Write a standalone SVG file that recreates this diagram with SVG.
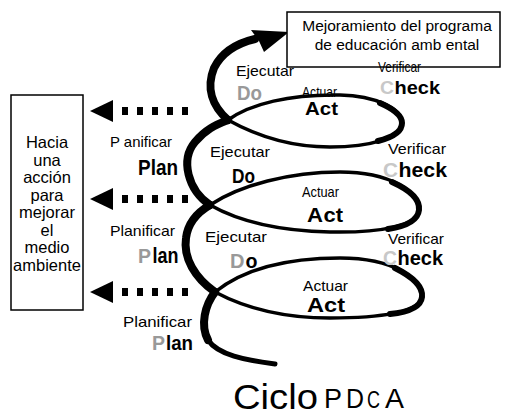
<svg xmlns="http://www.w3.org/2000/svg" xmlns:xlink="http://www.w3.org/1999/xlink" width="509" height="416" viewBox="0 0 509 416">
<style>
  .box{fill:#fff;stroke:#000;stroke-width:1.5}
  .t{font-family:"Liberation Sans",Arial,sans-serif;fill:#000}
  .bt{font-family:"Liberation Sans",Arial,sans-serif;font-size:16.5px;text-anchor:middle;fill:#000}
  .lbl{font-family:"Liberation Sans",Arial,sans-serif;font-size:15px;fill:#000}
  .hw{font-family:"Liberation Sans",Arial,sans-serif;font-weight:bold;fill:#000}
  .gray{fill:#999}
  .light{fill:#c8c8c8}
  .sp{fill:none;stroke:#000;stroke-linecap:round;stroke-linejoin:round}
</style>
<defs>
  <g id="dashArrow">
    <polygon points="90,0 113,-11 113,11" fill="#000"/>
    <line x1="122" y1="0" x2="189" y2="0" stroke="#000" stroke-width="8" stroke-dasharray="6 9"/>
  </g>
</defs>

<g id="connectors">
  <g id="dashed-arrows">
    <use xlink:href="#dashArrow" href="#dashArrow" transform="translate(0,111)"/>
    <use xlink:href="#dashArrow" href="#dashArrow" transform="translate(0,199)"/>
    <use xlink:href="#dashArrow" href="#dashArrow" transform="translate(0,292)"/>
  </g>
  <g id="spiral">
    <path class="sp" stroke-width="8" d="M215,292 C205,305 200,325 208,340"/>
    <path class="sp" stroke-width="5" d="M208,340 C218,355 245,360 275,364"/>
    <path class="sp" stroke-width="3.5" d="M215,292 C245,268 290,258 340,258 C395,258 423,280 422,297 C421,312 380,318 330,318 C285,318 245,308 215,292"/>
    <path class="sp" stroke-width="6" d="M395,268 C415,278 423,288 422,297 C421,306 410,312 390,314"/>
    <path class="sp" stroke-width="8" d="M215,292 C195,278 183,258 186,238 C188,222 198,212 210,205"/>
    <path class="sp" stroke-width="3.5" d="M210,205 C240,185 290,172 340,172 C390,172 420,192 419,210 C418,226 380,233 330,232 C280,231 240,222 210,205"/>
    <path class="sp" stroke-width="6" d="M392,182 C412,191 420,201 419,210 C418,219 408,226 388,229"/>
    <path class="sp" stroke-width="8" d="M210,205 C188,190 180,160 195,142 C205,130 215,125 228,120"/>
    <path class="sp" stroke-width="3.5" d="M228,120 C250,104 290,94 340,95 C375,96 402,108 402,123 C402,138 370,147 330,147 C290,147 255,135 228,120"/>
    <path class="sp" stroke-width="6" d="M380,103 C396,110 402,116 402,123 C402,131 394,137 378,141"/>
    <path class="sp" stroke-width="8" d="M228,120 C212,106 206,88 214,68 C222,52 238,43 255,39"/>
    <polygon points="251,30 289,32 264,52 259,41" fill="#000"/>
  </g>
</g>

<g id="node-left">
  <rect class="box" x="11" y="95" width="72" height="215"/>
  <text class="bt" x="47" y="148">Hacia</text>
  <text class="bt" x="47" y="165.5">una</text>
  <text class="bt" x="47" y="183">acción</text>
  <text class="bt" x="47" y="200.5">para</text>
  <text class="bt" x="47" y="218">mejorar</text>
  <text class="bt" x="47" y="235.5">el</text>
  <text class="bt" x="47" y="253">medio</text>
  <text class="bt" x="47" y="271">ambiente</text>
</g>

<g id="node-top">
  <rect class="box" x="287" y="12" width="213" height="55"/>
  <text class="t" x="397" y="31" font-size="15.5" text-anchor="middle">Mejoramiento del programa</text>
  <text class="t" x="397" y="50" font-size="15.5" text-anchor="middle">de educación amb ental</text>
</g>

<g id="labels-row1">
  <text class="lbl" x="236" y="76" textLength="58" lengthAdjust="spacingAndGlyphs">Ejecutar</text>
  <text class="hw gray" x="237" y="100" font-size="20" textLength="25" lengthAdjust="spacingAndGlyphs">Do</text>
  <text class="lbl" x="378" y="72" font-size="13" textLength="43" lengthAdjust="spacingAndGlyphs">Verificar</text>
  <text class="hw light" x="380" y="94" font-size="19" textLength="14" lengthAdjust="spacingAndGlyphs">C</text>
  <text class="hw" x="394.5" y="94" font-size="19" textLength="45.5" lengthAdjust="spacingAndGlyphs">heck</text>
  <text class="lbl" x="302" y="97" font-size="14" textLength="35" lengthAdjust="spacingAndGlyphs">Actuar</text>
  <text class="hw" x="305" y="115" font-size="19" textLength="33" lengthAdjust="spacingAndGlyphs">Act</text>
</g>

<g id="labels-row2">
  <text class="lbl" x="110" y="147" textLength="62" lengthAdjust="spacingAndGlyphs">P anificar</text>
  <text class="hw" x="138" y="175" font-size="22" textLength="40" lengthAdjust="spacingAndGlyphs">Plan</text>
  <text class="lbl" x="210" y="157" textLength="60" lengthAdjust="spacingAndGlyphs">Ejecutar</text>
  <text class="hw" x="232" y="183" font-size="20" textLength="23" lengthAdjust="spacingAndGlyphs">Do</text>
  <text class="lbl" x="388" y="154" textLength="58" lengthAdjust="spacingAndGlyphs">Verificar</text>
  <text class="hw light" x="383" y="177" font-size="21" textLength="15" lengthAdjust="spacingAndGlyphs">C</text>
  <text class="hw" x="398.5" y="177" font-size="21" textLength="48.5" lengthAdjust="spacingAndGlyphs">heck</text>
  <text class="lbl" x="302" y="197" font-size="14" textLength="37" lengthAdjust="spacingAndGlyphs">Actuar</text>
  <text class="hw" x="307" y="222" font-size="21" textLength="16" lengthAdjust="spacingAndGlyphs" fill="#555">A</text>
  <text class="hw" x="323.5" y="222" font-size="21" textLength="19.5" lengthAdjust="spacingAndGlyphs">ct</text>
</g>

<g id="labels-row3">
  <text class="lbl" x="110" y="236" textLength="65" lengthAdjust="spacingAndGlyphs">Planificar</text>
  <text class="hw gray" x="138" y="263" font-size="21" textLength="13" lengthAdjust="spacingAndGlyphs">P</text>
  <text class="hw" x="152.5" y="263" font-size="22" textLength="26" lengthAdjust="spacingAndGlyphs">lan</text>
  <text class="lbl" x="205" y="242" textLength="62" lengthAdjust="spacingAndGlyphs">Ejecutar</text>
  <text class="hw gray" x="230" y="268" font-size="21" textLength="14.5" lengthAdjust="spacingAndGlyphs">D</text>
  <text class="hw" x="245.5" y="268" font-size="21" textLength="12" lengthAdjust="spacingAndGlyphs">o</text>
  <text class="lbl" x="388" y="244" textLength="56" lengthAdjust="spacingAndGlyphs">Verificar</text>
  <text class="hw light" x="383" y="265" font-size="20" textLength="14" lengthAdjust="spacingAndGlyphs">C</text>
  <text class="hw" x="397.5" y="265" font-size="20" textLength="45.5" lengthAdjust="spacingAndGlyphs">heck</text>
  <text class="lbl" x="303" y="291" textLength="45" lengthAdjust="spacingAndGlyphs">Actuar</text>
  <text class="hw" x="307" y="312" font-size="20" textLength="38" lengthAdjust="spacingAndGlyphs">Act</text>
</g>

<g id="labels-row4">
  <text class="lbl" x="123" y="327" font-size="16" textLength="69" lengthAdjust="spacingAndGlyphs">Planificar</text>
  <text class="hw gray" x="152" y="350" font-size="21" textLength="13" lengthAdjust="spacingAndGlyphs">P</text>
  <text class="hw" x="166" y="350" font-size="21" textLength="27" lengthAdjust="spacingAndGlyphs">lan</text>
</g>

<g id="title">
  <text class="t" x="233" y="409" font-size="35" textLength="85" lengthAdjust="spacingAndGlyphs">Ciclo</text>
  <text class="t" x="324" y="408" font-size="27" fill="#555" textLength="18" lengthAdjust="spacingAndGlyphs">P</text>
  <text class="t" x="346" y="408" font-size="27" fill="#666" textLength="18" lengthAdjust="spacingAndGlyphs">D</text>
  <text class="t" x="367" y="408" font-size="24" fill="#c0c0c0" textLength="13" lengthAdjust="spacingAndGlyphs">C</text>
  <text class="t" x="385" y="408" font-size="27" fill="#555" textLength="19" lengthAdjust="spacingAndGlyphs">A</text>
</g>
</svg>
